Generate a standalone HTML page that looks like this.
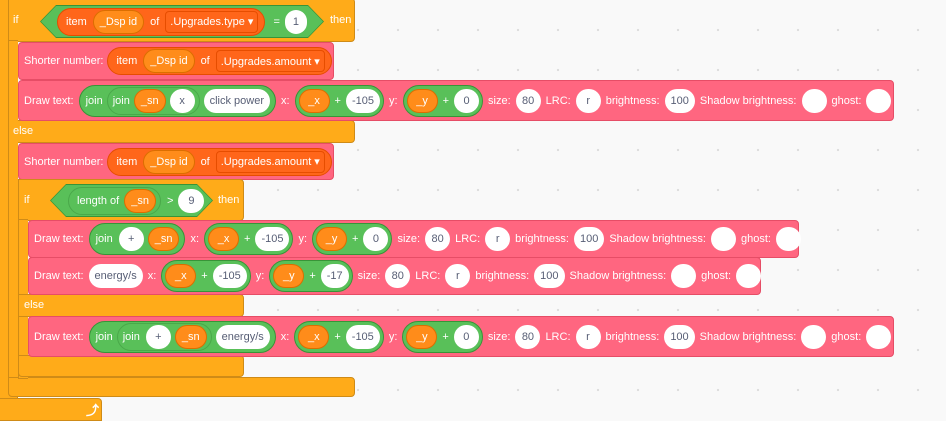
<!DOCTYPE html>
<html><head><meta charset="utf-8"><style>
*{box-sizing:border-box}
body{margin:0;width:946px;height:419px;overflow:hidden;background:#f9f9f9;background-image:radial-gradient(circle,#dcdcdc 1px,transparent 1.3px);background-size:40px 40px;background-position:18px 10px;font-family:"Liberation Sans",sans-serif;font-size:11px;color:#fff;position:relative}
.a{position:absolute}
.or{background:#FFAB19;border:1px solid #CF8B17}
.blk{position:absolute;display:flex;align-items:center;padding-left:5px;border-radius:4px;white-space:nowrap}
.blk *{flex-shrink:0}
.pk{background:#FF6680;border:1px solid #E64D66}
.p{display:inline-flex;align-items:center;justify-content:center;height:24px;border-radius:12px;padding:0 6px;margin:0 2px;white-space:nowrap;flex-shrink:0}
.big{height:32px;border-radius:16px;padding:0 3px}
.w{background:#fff;color:#575E75;min-width:25px}
.o{background:#FF8C1A;border:1px solid #DB6E00;min-width:31px}
.g{background:#59C059;border:1px solid #389438}
.r{background:#FF661A;border:1px solid #E64D00}
.dd{background:#FF661A;border:1px solid #E64D00;border-radius:4px;height:22px;padding:0 4px}
.l{margin:0 3px;flex-shrink:0}
.pl{margin:0 5px}
</style></head><body>
<div class="a or" style="left:-2px;top:-2px;width:20px;height:402px;"></div>
<div class="a or" style="left:-2px;top:398px;width:104px;height:23px;border-radius:0 4px 0 0"></div>
<div class="a" style="left:86px;top:400px;font-size:13px;font-weight:bold">⤴</div>
<div class="a or" style="left:8px;top:-2px;width:347px;height:44px;border-radius:0 4px 4px 0"></div>
<div class="a or" style="left:8px;top:120px;width:347px;height:23px;border-radius:0 4px 4px 0"></div>
<div class="a or" style="left:8px;top:40px;width:10px;height:340px;border-right:none"></div>
<div class="a or" style="left:8px;top:377px;width:347px;height:20px;border-radius:0 4px 4px 4px"></div>
<div class="a" style="left:13px;top:14px">if</div>
<div class="a" style="left:13px;top:125px">else</div>
<div class="a" style="left:40px;top:5px;width:284px;height:33px;background:#389438;clip-path:polygon(16px 0,calc(100% - 16px) 0,100% 50%,calc(100% - 16px) 100%,16px 100%,0 50%)"></div>
<div class="a" style="left:41px;top:6px;width:282px;height:31px;background:#59C059;clip-path:polygon(15px 0,calc(100% - 15px) 0,100% 50%,calc(100% - 15px) 100%,15px 100%,0 50%);display:flex;align-items:center;padding-left:16px">
<span class="p r" style="height:28px;border-radius:14px;padding:0 4px 0 8px;margin:0">item <span class="p o" style="min-width:50px;margin:0 6px">_Dsp id</span> of <span class="p dd" style="margin-left:6px">.Upgrades.type ▾</span></span>
<span class="l" style="margin-left:8px">=</span><span class="p w" style="min-width:22px">1</span></div>
<div class="a" style="left:330px;top:14px">then</div>
<div class="blk pk" style="left:18px;top:42px;width:316px;height:38px;">Shorter number: <span class="p r" style="height:28px;border-radius:14px;padding:0 4px 0 8px;margin-left:4px">item <span class="p o" style="min-width:50px;margin:0 6px">_Dsp id</span> of <span class="p dd" style="margin-left:6px">.Upgrades.amount ▾</span></span></div>
<div class="blk pk" style="left:18px;top:80px;width:876px;height:41px;">Draw text: <span class="p g big" style="margin-left:5px">&nbsp;join <span class="p g" style="height:28px;border-radius:14px;border-color:#4aa84a;padding:0 2px 0 5px;margin-left:4px">join <span class="p o" style="margin-left:4px">_sn</span><span class="p w">x</span></span><span class="p w">click power</span></span>
<span class="l">x:</span><span class="p g big"><span class="p o" style="margin:0">_x</span><span class="pl">+</span><span class="p w" style="margin:0">-105</span></span>
<span class="l">y:</span><span class="p g big"><span class="p o" style="margin:0">_y</span><span class="pl">+</span><span class="p w" style="margin:0">0</span></span>
<span class="l">size:</span><span class="p w">80</span><span class="l">LRC:</span><span class="p w">r</span><span class="l">brightness:</span><span class="p w">100</span><span class="l">Shadow brightness:</span><span class="p w"></span><span class="l">ghost:</span><span class="p w"></span></div>
<div class="blk pk" style="left:18px;top:143px;width:316px;height:37px;">Shorter number: <span class="p r" style="height:28px;border-radius:14px;padding:0 4px 0 8px;margin-left:4px">item <span class="p o" style="min-width:50px;margin:0 6px">_Dsp id</span> of <span class="p dd" style="margin-left:6px">.Upgrades.amount ▾</span></span></div>
<div class="a or" style="left:18px;top:179px;width:226px;height:42px;border-radius:0 4px 4px 0"></div>
<div class="a or" style="left:18px;top:219px;width:10px;height:160px;border-right:none"></div>
<div class="a or" style="left:18px;top:294px;width:226px;height:23px;border-radius:0 4px 4px 0"></div>
<div class="a or" style="left:18px;top:355px;width:226px;height:22px;border-radius:0 4px 4px 4px"></div>
<div class="a" style="left:24px;top:194px">if</div>
<div class="a" style="left:24px;top:299px">else</div>
<div class="a" style="left:50px;top:184px;width:163px;height:33px;background:#389438;clip-path:polygon(16px 0,calc(100% - 16px) 0,100% 50%,calc(100% - 16px) 100%,16px 100%,0 50%)"></div>
<div class="a" style="left:51px;top:185px;width:161px;height:31px;background:#59C059;clip-path:polygon(15px 0,calc(100% - 15px) 0,100% 50%,calc(100% - 15px) 100%,15px 100%,0 50%);display:flex;align-items:center;padding-left:17px">
<span class="p g" style="height:28px;border-radius:14px;border-color:#4aa84a;padding:0 2px 0 8px;margin:0">length of <span class="p o" style="margin-left:5px">_sn</span></span><span class="l" style="margin-left:6px">&gt;</span><span class="p w" style="min-width:26px">9</span></div>
<div class="a" style="left:218px;top:194px">then</div>
<div class="blk pk" style="left:28px;top:220px;width:771px;height:38px;">Draw text: <span class="p g big" style="margin-left:5px">&nbsp;join <span class="p w" style="margin-left:6px">+</span><span class="p o">_sn</span></span>
<span class="l">x:</span><span class="p g big"><span class="p o" style="margin:0">_x</span><span class="pl">+</span><span class="p w" style="margin:0">-105</span></span>
<span class="l">y:</span><span class="p g big"><span class="p o" style="margin:0">_y</span><span class="pl">+</span><span class="p w" style="margin:0">0</span></span>
<span class="l">size:</span><span class="p w">80</span><span class="l">LRC:</span><span class="p w">r</span><span class="l">brightness:</span><span class="p w">100</span><span class="l">Shadow brightness:</span><span class="p w"></span><span class="l">ghost:</span><span class="p w"></span></div>
<div class="blk pk" style="left:28px;top:257px;width:733px;height:38px;">Draw text: <span class="p w" style="margin-left:5px">energy/s</span>
<span class="l">x:</span><span class="p g big"><span class="p o" style="margin:0">_x</span><span class="pl">+</span><span class="p w" style="margin:0">-105</span></span>
<span class="l">y:</span><span class="p g big"><span class="p o" style="margin:0">_y</span><span class="pl">+</span><span class="p w" style="margin:0">-17</span></span>
<span class="l">size:</span><span class="p w">80</span><span class="l">LRC:</span><span class="p w">r</span><span class="l">brightness:</span><span class="p w">100</span><span class="l">Shadow brightness:</span><span class="p w"></span><span class="l">ghost:</span><span class="p w"></span></div>
<div class="blk pk" style="left:28px;top:316px;width:866px;height:41px;">Draw text: <span class="p g big" style="margin-left:5px">&nbsp;join <span class="p g" style="height:28px;border-radius:14px;border-color:#4aa84a;padding:0 2px 0 5px;margin-left:4px">join <span class="p w" style="margin-left:6px">+</span><span class="p o">_sn</span></span><span class="p w">energy/s</span></span>
<span class="l">x:</span><span class="p g big"><span class="p o" style="margin:0">_x</span><span class="pl">+</span><span class="p w" style="margin:0">-105</span></span>
<span class="l">y:</span><span class="p g big"><span class="p o" style="margin:0">_y</span><span class="pl">+</span><span class="p w" style="margin:0">0</span></span>
<span class="l">size:</span><span class="p w">80</span><span class="l">LRC:</span><span class="p w">r</span><span class="l">brightness:</span><span class="p w">100</span><span class="l">Shadow brightness:</span><span class="p w"></span><span class="l">ghost:</span><span class="p w"></span></div>
</body></html>
